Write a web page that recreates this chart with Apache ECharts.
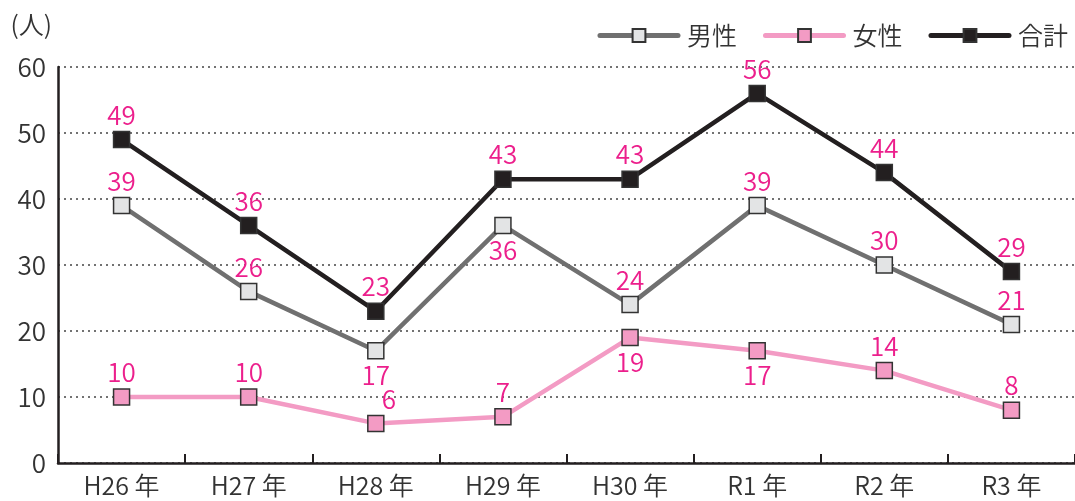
<!DOCTYPE html>
<html><head><meta charset="utf-8">
<script src="https://cdn.jsdelivr.net/npm/echarts@6/dist/echarts.min.js"></script>
<style>html,body{margin:0;padding:0;background:#fff}#c{width:1075px;height:501px}</style>
</head><body><div id="c"></div>
<script>
var categories = ['H26 年','H27 年','H28 年','H29 年','H30 年','R1 年','R2 年','R3 年'];
var male = [39,26,17,36,24,39,30,21];
var female = [10,10,6,7,19,17,14,8];
var total = [49,36,23,43,43,56,44,29];
var yTicks = [0,10,20,30,40,50,60];
var maleBelow = [2,3];
var femaleBelow = [4,5];

var FONT = '"Noto Sans CJK JP", "Noto Sans", sans-serif';
var W = 350;
var LABEL_COLOR = '#ec1f8c';

function mkData(vals, below, shiftIdx){
  return vals.map(function(v,i){
    var d = {value:v};
    if (below.indexOf(i) >= 0) d.label = {position:'bottom'};
    if (shiftIdx === i) d.label = {offset:[13,0]};
    return d;
  });
}
function series(name, vals, below, lineColor, fill, z, shiftIdx){
  return {
    name:name, type:'line', data:mkData(vals, below, shiftIdx), z:z,
    symbol:'rect', symbolSize:16,
    lineStyle:{color:lineColor, width:4.5},
    itemStyle:{color:fill, borderColor:'#333', borderWidth:1.5},
    label:{show:true, position:'top', distance:3, color:LABEL_COLOR, fontSize:26, fontFamily:FONT, fontWeight:W},
    emphasis:{disabled:true}, animation:false
  };
}
var chart = echarts.init(document.getElementById('c'));
chart.setOption({
  animation:false,
  legend:{
    right:2, top:18, itemWidth:78, itemHeight:16, itemGap:26,
    lineStyle:{width:5, cap:'round'},
    textStyle:{fontSize:25, color:'#333', fontFamily:FONT, fontWeight:W, padding:[0,0,0,4]},
    data:['男性','女性','合計']
  },
  grid:{left:58, right:0, top:67, bottom:38},
  xAxis:{
    type:'category', data:categories, boundaryGap:true,
    axisLine:{lineStyle:{color:'#231f20', width:2.5}},
    axisTick:{show:true, inside:true, length:9, lineStyle:{color:'#231f20', width:2}},
    axisLabel:{fontSize:25, color:'#333', fontFamily:FONT, fontWeight:W, margin:10}
  },
  yAxis:{
    type:'value', min:0, max:60, interval:10,
    name:'(人)', nameLocation:'end', nameGap:30,
    nameTextStyle:{fontSize:25, color:'#333', fontFamily:FONT, fontWeight:W, align:'right', padding:[0,6,0,0]},
    axisLine:{show:true, lineStyle:{color:'#231f20', width:2.5}},
    axisTick:{show:false},
    axisLabel:{fontSize:26, color:'#333', fontFamily:FONT, fontWeight:W, margin:12,
      formatter:function(v){ return yTicks.indexOf(v)>=0 ? String(v) : ''; }},
    splitLine:{show:true, lineStyle:{color:'#444', type:[2,4], width:1.5}}
  },
  series:[
    series('女性', female, femaleBelow, '#f39bc4', '#f39bc4', 2, 2),
    series('男性', male, maleBelow, '#707070', '#e3e4e5', 3, -1),
    series('合計', total, [], '#231f20', '#231f20', 4, -1)
  ]
});
</script></body></html>
